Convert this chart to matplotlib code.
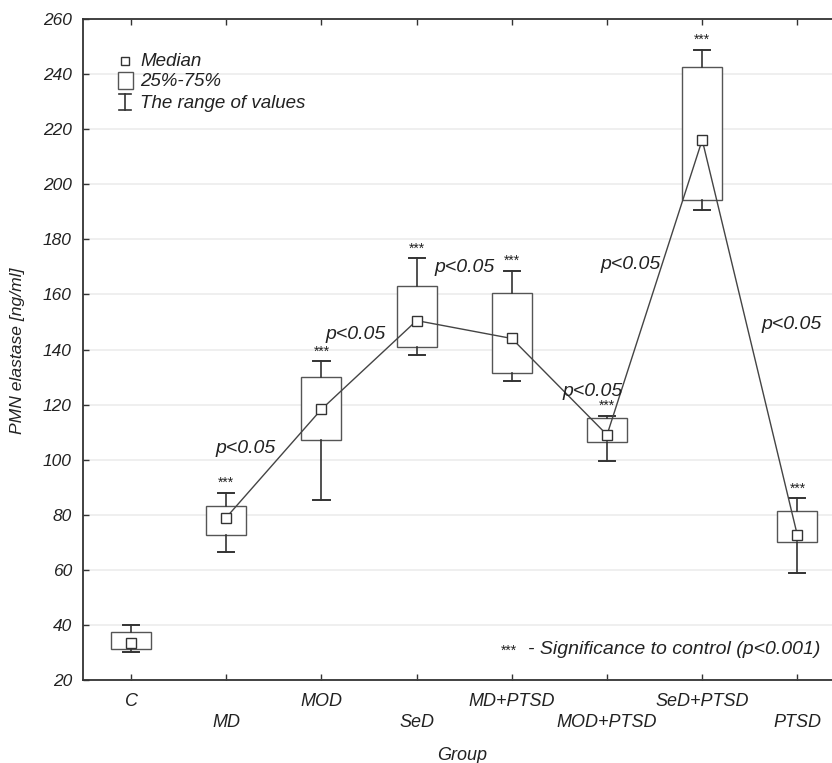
import matplotlib
matplotlib.use("Agg")
import matplotlib.pyplot as plt
from matplotlib.patches import Rectangle

plt.rcParams['font.family'] = ['Liberation Sans', 'DejaVu Sans']

groups = ["C", "MD", "MOD", "SeD", "MD+PTSD", "MOD+PTSD", "SeD+PTSD", "PTSD"]
whisk_low = [30.1, 66.5, 85.5, 138.1, 128.5, 99.5, 190.7, 59.0]
q1 = [31.4, 72.5, 107.0, 140.8, 131.5, 106.5, 194.3, 70.0]
median = [33.5, 79.0, 118.3, 150.5, 144.0, 109.0, 216.1, 72.5]
q3 = [37.5, 83.0, 129.9, 163.1, 160.5, 115.0, 242.6, 81.5]
whisk_high = [40.0, 88.0, 135.7, 173.1, 168.5, 116.0, 248.8, 86.0]
significant = [False, True, True, True, True, True, True, True]

p_labels = ["p<0.05"] * 6
p_x = [1.2, 2.36, 3.5, 4.85, 5.25, 6.94]
p_y = [104.0, 145.3, 169.6, 124.6, 170.7, 148.9]

yticks = list(range(20, 261, 20))

fig = plt.figure(figsize=(8.32, 7.63), dpi=100)
ax = fig.add_axes([83/832, 83/763, 762/832, 661/763])

ax.set_xlim(-0.505, 7.5)
ax.set_ylim(20, 260)
ax.set_yticks(yticks)
ax.set_xticks(range(len(groups)))
ax.set_xticklabels([])
ax.grid(axis='y', color='#ececec', linewidth=1.2, zorder=0)
ax.set_axisbelow(True)

for s in ['left', 'bottom', 'top']:
    ax.spines[s].set_color('#333333')
    ax.spines[s].set_linewidth(1.3)
ax.spines['right'].set_visible(False)
ax.tick_params(axis='both', direction='in', length=4, width=1.0, color='#333333',
               top=True, labelsize=12.5)
ax.tick_params(axis='y', pad=8)
for lab in ax.get_yticklabels():
    lab.set_fontstyle('italic')
    lab.set_color('#222222')

edge = '#555555'
bw = 0.42
cw = 0.17
for i in range(len(groups)):
    ax.add_patch(Rectangle((i - bw/2, q1[i]), bw, q3[i] - q1[i], facecolor='white',
                           edgecolor=edge, linewidth=1.0, zorder=2))
    ax.plot([i, i], [q3[i], whisk_high[i]], color='#333333', lw=1.2, zorder=2)
    ax.plot([i, i], [q1[i], whisk_low[i]], color='#333333', lw=1.2, zorder=2)
    ax.plot([i - cw/2, i + cw/2], [whisk_high[i]] * 2, color='#333333', lw=1.4, zorder=2)
    ax.plot([i - cw/2, i + cw/2], [whisk_low[i]] * 2, color='#333333', lw=1.4, zorder=2)
    if significant[i]:
        ax.text(i, whisk_high[i] + 1.0, "***", ha='center', va='bottom', fontsize=10,
                color='#222222')

xs = list(range(1, len(groups)))
ax.plot(xs, median[1:], color='#444444', lw=1.0, zorder=3)
ax.plot(range(len(groups)), median, linestyle='none', marker='s', markersize=7,
        markerfacecolor='white', markeredgecolor='#333333', markeredgewidth=1.0, zorder=4)

for t, x, y in zip(p_labels, p_x, p_y):
    ax.text(x, y, t, ha='center', va='center', fontsize=14, fontstyle='italic',
            color='#222222', zorder=5)

# staggered x labels
for i, g in enumerate(groups):
    yoff = -0.033 if i % 2 == 0 else -0.065
    ax.text(i, yoff, g, transform=ax.get_xaxis_transform(), ha='center', va='center',
            fontsize=13, fontstyle='italic', color='#222222')

fig.text(462/832, 1 - 755/763, "Group", ha='center', va='center', fontsize=13,
         fontstyle='italic', color='#222222')
fig.text(18/832, 1 - 351/763, "PMN elastase [ng/ml]", ha='center', va='center',
         rotation=90, fontsize=12.6, fontstyle='italic', color='#222222')

# legend (drawn in axes coordinates)
ta = ax.transAxes
def fx(px):
    return (px - 83) / 762
def fy(py):
    return (680 - py) / 661
ax.plot([fx(125)], [fy(61)], transform=ta, marker='s', markersize=6,
        markerfacecolor='white', markeredgecolor='#333333', linestyle='none', zorder=5)
ax.add_patch(Rectangle((fx(118), fy(89)), fx(133) - fx(118), fy(72) - fy(89), transform=ta,
                       facecolor='white', edgecolor=edge, linewidth=1.0, zorder=5))
ax.plot([fx(125), fx(125)], [fy(94), fy(110)], transform=ta, color='#333333', lw=1.2)
ax.plot([fx(119), fx(131)], [fy(94), fy(94)], transform=ta, color='#333333', lw=1.2)
ax.plot([fx(119), fx(131)], [fy(110), fy(110)], transform=ta, color='#333333', lw=1.2)
for py, t in [(61, "Median"), (82, "25%-75%"), (103, "The range of values")]:
    ax.text(fx(140), fy(py), t, transform=ta, ha='left', va='center', fontsize=13.5,
            fontstyle='italic', color='#222222')

ax.text(fx(509), fy(651), "***", transform=ta, ha='center', va='center', fontsize=10,
        color='#222222')
ax.text(fx(820), fy(650), "- Significance to control (p<0.001)", transform=ta, ha='right',
        va='center', fontsize=14, fontstyle='italic', color='#222222')

fig.savefig("out.png", dpi=100)
